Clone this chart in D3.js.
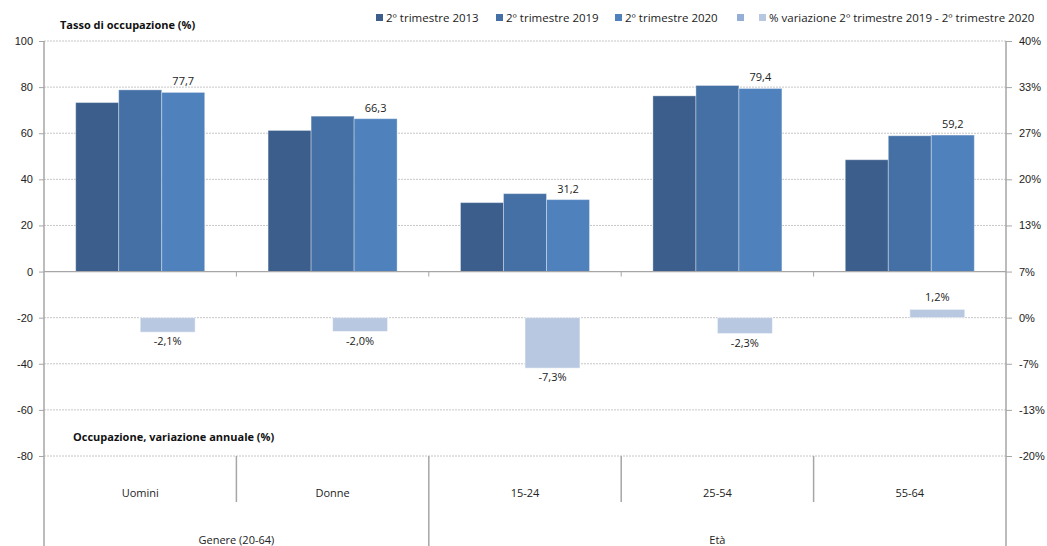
<!DOCTYPE html>
<html><head><meta charset="utf-8">
<script src="https://cdn.jsdelivr.net/npm/d3@7"></script>
<style>
html,body{margin:0;padding:0;background:#fff;}
svg{display:block;font-family:"Open Sans",sans-serif;}
</style></head>
<body><svg id="c" width="1047" height="546"></svg>
<script>
// ---- data ----
const categories = ["Uomini","Donne","15-24","25-54","55-64"];
const groupLabels = ["Genere (20-64)","Età"];
const groupSizes = [2,3];
const seriesNames = ["2º trimestre 2013","2º trimestre 2019","2º trimestre 2020"];
const s2013 = [73.3, 61.2, 29.9, 76.2, 48.5];
const s2019 = [78.8, 67.4, 33.8, 80.7, 58.9];
const s2020 = [77.7, 66.3, 31.2, 79.4, 59.2];
const varName = "% variazione 2º trimestre 2019 - 2º trimestre 2020";
const varPct = [-2.1, -2.0, -7.3, -2.3, 1.2];
const leftTicks = [-80,-60,-40,-20,0,20,40,60,80,100];
const rightTickLabels = ["-20%","-13%","-7%","0%","7%","13%","20%","27%","33%","40%"];

const colors = ["#3B5E8C","#4470A5","#4F81BD"];
const varColor = "#B9C8E1";
const blankColor = "#95AED6";

const svg = d3.select("#c");
const L = 44, R = 1006, T = 41, B = 456;
const yL = d3.scaleLinear().domain([-80,100]).range([B,T]);
const yR = d3.scaleLinear().domain([-20,40]).range([B,T]);
const rightTicks = d3.range(rightTickLabels.length).map(i => -20 + i*60/9);

const x0 = d3.scaleBand().domain(categories).range([L,R]).padding(0);
const x1 = d3.scaleBand().domain(seriesNames).range([0,x0.bandwidth()]).paddingInner(0).paddingOuter(0.737);
const x2 = d3.scaleBand().domain(["blank","var"]).range([0,x0.bandwidth()]).paddingInner(0).paddingOuter(0.75);

const fmt = v => String(v.toFixed(1)).replace(".", ",");

// gridlines
svg.append("g").selectAll("line").data(leftTicks.filter(d=>d!==0)).join("line")
  .attr("x1",L).attr("x2",R).attr("y1",d=>yL(d)).attr("y2",d=>yL(d))
  .attr("stroke","#C6C6C6").attr("stroke-dasharray","2,1").attr("stroke-width",1);

// left axis
const gl = svg.append("g").attr("transform",`translate(${L},0)`)
  .call(d3.axisLeft(yL).tickValues(leftTicks).tickSize(5).tickPadding(6).tickFormat(d=>String(d)));
gl.select(".domain").remove();
gl.selectAll(".tick line").attr("stroke","#A6A6A6");
gl.selectAll(".tick text").attr("font-size","11px").attr("fill","#222");
svg.append("line").attr("x1",L).attr("x2",L).attr("y1",T).attr("y2",546).attr("stroke","#A6A6A6").attr("stroke-width",1.5);

// right axis
const gr = svg.append("g").attr("transform",`translate(${R},0)`)
  .call(d3.axisRight(yR).tickValues(rightTicks).tickSize(6).tickPadding(7).tickFormat((d,i)=>rightTickLabels[i]));
gr.select(".domain").remove();
gr.selectAll(".tick line").attr("stroke","#A6A6A6");
gr.selectAll(".tick text").attr("font-size","11px").attr("fill","#222");
svg.append("line").attr("x1",R).attr("x2",R).attr("y1",T).attr("y2",546).attr("stroke","#A6A6A6").attr("stroke-width",1.5);

// primary bars
const series = [s2013,s2019,s2020];
series.forEach((arr,si)=>{
  svg.append("g").selectAll("rect").data(arr).join("rect")
    .attr("x",(d,i)=>x0(categories[i])+x1(seriesNames[si]))
    .attr("width",x1.bandwidth())
    .attr("y",d=>yL(d)).attr("height",d=>yL(0)-yL(d))
    .attr("fill",colors[si]).attr("stroke","rgba(255,255,255,0.35)").attr("stroke-width",1);
});
// labels 2020
svg.append("g").selectAll("text").data(s2020).join("text")
  .attr("x",(d,i)=>x0(categories[i])+x1(seriesNames[2])+x1.bandwidth()/2)
  .attr("y",d=>yL(d)-7).attr("text-anchor","middle")
  .attr("font-size","11px").attr("fill","#222").text(d=>fmt(d));

// variation bars
svg.append("g").selectAll("rect").data(varPct).join("rect")
  .attr("x",(d,i)=>x0(categories[i])+x2("var"))
  .attr("width",x2.bandwidth())
  .attr("y",d=>Math.min(yR(d),yR(0))).attr("height",d=>Math.abs(yR(d)-yR(0)))
  .attr("fill",varColor).attr("stroke","rgba(255,255,255,0.5)").attr("stroke-width",1);
svg.append("g").selectAll("text").data(varPct).join("text")
  .attr("x",(d,i)=>x0(categories[i])+x2("var")+x2.bandwidth()/2)
  .attr("y",d=> d<0 ? yR(d)+13 : yR(d)-8).attr("text-anchor","middle")
  .attr("font-size","11px").attr("fill","#222").text(d=>fmt(d)+"%");

// zero line
svg.append("line").attr("x1",L).attr("x2",R).attr("y1",yL(0)).attr("y2",yL(0)).attr("stroke","#A6A6A6").attr("stroke-width",1.2);
svg.append("g").selectAll("line").data(categories.slice(1)).join("line")
  .attr("x1",d=>x0(d)).attr("x2",d=>x0(d)).attr("y1",yL(0)).attr("y2",yL(0)+5)
  .attr("stroke","#A6A6A6");

// bottom hierarchical axis
let idx = 0;
const groupStarts = groupSizes.map(n=>{const s=idx; idx+=n; return s;});
categories.slice(1).forEach((c,i)=>{
  const isGroupEdge = groupStarts.includes(i+1);
  svg.append("line").attr("x1",x0(c)).attr("x2",x0(c)).attr("y1",B).attr("y2",isGroupEdge?546:502)
    .attr("stroke","#A6A6A6").attr("stroke-width",1.5);
});
svg.append("g").selectAll("text").data(categories).join("text")
  .attr("x",d=>x0(d)+x0.bandwidth()/2).attr("y",497).attr("text-anchor","middle")
  .attr("font-size","11px").attr("fill","#222").text(d=>d);
svg.append("g").selectAll("text").data(groupLabels).join("text")
  .attr("x",(d,i)=>{const a=x0(categories[groupStarts[i]]); const b=x0(categories[groupStarts[i]+groupSizes[i]-1])+x0.bandwidth(); return (a+b)/2;})
  .attr("y",544).attr("text-anchor","middle")
  .attr("font-size","11px").attr("fill","#222").text(d=>d);

// titles
svg.append("text").attr("x",60).attr("y",29).attr("font-size","11px").attr("font-weight","bold").attr("fill","#111").text("Tasso di occupazione (%)");
svg.append("text").attr("x",73).attr("y",441).attr("font-size","11px").attr("font-weight","bold").attr("fill","#111").text("Occupazione, variazione annuale (%)");

// legend
const legendItems = [
  {name:seriesNames[0], color:colors[0], x:376},
  {name:seriesNames[1], color:colors[1], x:496},
  {name:seriesNames[2], color:colors[2], x:615},
  {name:"", color:blankColor, x:737},
  {name:varName, color:varColor, x:759}
];
const lg = svg.append("g").selectAll("g").data(legendItems).join("g");
lg.append("rect").attr("x",d=>d.x).attr("y",14).attr("width",7).attr("height",7).attr("fill",d=>d.color);
lg.append("text").attr("x",d=>d.x+10).attr("y",22).attr("font-size","11.5px").attr("fill","#222").text(d=>d.name);
</script>
</body></html>
